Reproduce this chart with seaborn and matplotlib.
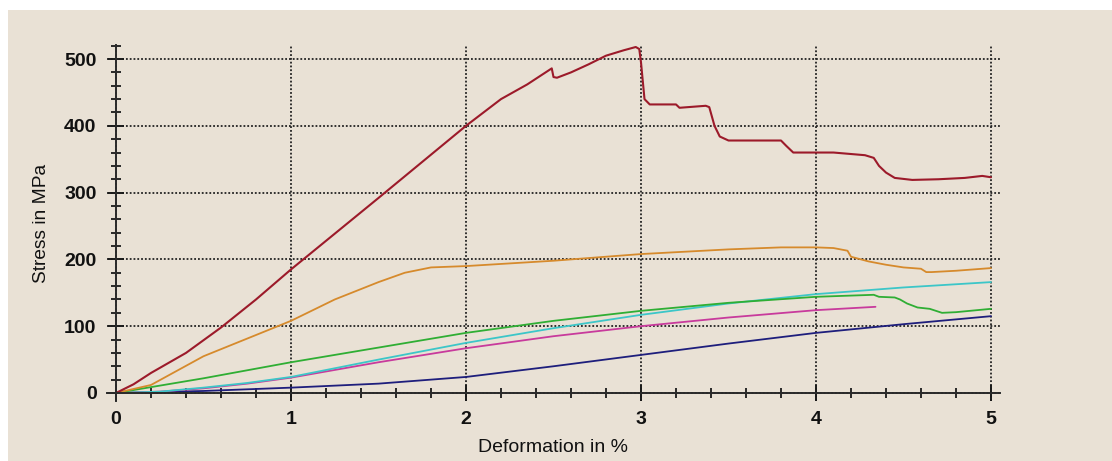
import matplotlib
matplotlib.use("Agg")
import matplotlib.pyplot as plt
import matplotlib.patches as mpatches
from matplotlib.ticker import MultipleLocator
import seaborn as sns

# ---------------- data ----------------
red_x = [0, 0.1, 0.2, 0.4, 0.6, 0.8, 1.0, 1.5, 2.0, 2.2, 2.35, 2.49, 2.5, 2.52, 2.6, 2.7,
         2.8, 2.9, 2.97, 2.99, 3.0, 3.02, 3.05, 3.2, 3.22, 3.37, 3.39, 3.42, 3.45, 3.5, 3.8,
         3.83, 3.87, 4.1, 4.28, 4.33, 4.36, 4.4, 4.45, 4.55, 4.7, 4.85, 4.95, 5.0]
red_y = [0, 13, 30, 60, 98, 140, 185, 292, 400, 440, 462, 486, 473, 472, 480, 492,
         505, 513, 518, 515, 495, 440, 432, 432, 427, 430, 428, 400, 384, 378, 378,
         370, 360, 360, 356, 352, 340, 330, 322, 319, 320, 322, 325, 323]

orange_x = [0, 0.2, 0.5, 1.0, 1.25, 1.5, 1.65, 1.8, 2.0, 2.5, 3.0, 3.5, 3.8, 4.0, 4.1,
            4.18, 4.2, 4.3, 4.4, 4.5, 4.6, 4.63, 4.66, 4.8, 5.0]
orange_y = [0, 12, 55, 108, 140, 166, 180, 188, 190, 198, 208, 215, 218, 218, 217,
            213, 204, 197, 192, 188, 186, 181, 181, 183, 187]

green_x = [0, 0.5, 1, 1.5, 2, 2.5, 3, 3.5, 4, 4.33, 4.36, 4.45, 4.48, 4.52, 4.58, 4.65,
           4.72, 4.8, 5.0]
green_y = [0, 22, 46, 68, 90, 108, 123, 135, 144, 147, 144, 143, 140, 134, 128, 126,
           120, 121, 126]

cyan_x = [0, 0.25, 0.5, 0.75, 1, 1.5, 2, 2.5, 3, 3.5, 4, 4.5, 5]
cyan_y = [0, 2, 8, 15, 24, 50, 75, 97, 117, 134, 148, 158, 166]

magenta_x = [0, 0.25, 0.5, 0.75, 1, 1.5, 2, 2.5, 3, 3.5, 4, 4.34]
magenta_y = [0, 2, 7, 14, 23, 46, 67, 85, 100, 113, 124, 129]

navy_x = [0, 0.5, 1, 1.5, 2, 2.5, 3, 3.5, 4, 4.5, 5]
navy_y = [0, 3, 8, 14, 24, 40, 57, 74, 90, 103, 115]

x_ticks = [0, 1, 2, 3, 4, 5]
y_ticks = [0, 100, 200, 300, 400, 500]
x_label = "Deformation in %"
y_label = "Stress in MPa"

# ---------------- style ----------------
BG = "#e9e1d5"
sns.set_style("ticks")
plt.rcParams["font.family"] = ["Liberation Sans", "DejaVu Sans"]

fig = plt.figure(figsize=(11.12, 4.61), dpi=100)
fig.patch.set_facecolor("white")
fig.add_artist(mpatches.Rectangle((8 / 1112, 0), 1, (461 - 10) / 461,
                                  transform=fig.transFigure, facecolor=BG,
                                  edgecolor="none", zorder=-10))

ax = fig.add_axes([107.25 / 1112, (461 - 401) / 461, 892.5 / 1112, 356 / 461])
ax.set_facecolor(BG)

series = [
    (navy_x, navy_y, "#1e1e7c", 1.3),
    (magenta_x, magenta_y, "#c83a9c", 1.3),
    (cyan_x, cyan_y, "#3cc6c8", 1.3),
    (green_x, green_y, "#2fae34", 1.3),
    (orange_x, orange_y, "#d68a2c", 1.3),
    (red_x, red_y, "#9c1a2a", 1.5),
]
for xs, ys, col, lw in series:
    sns.lineplot(x=xs, y=ys, color=col, linewidth=lw, sort=False,
                 estimator=None, ax=ax, zorder=3)

ax.set_xlim(-0.05, 5.05)
ax.set_ylim(-12, 521)

for s in ["top", "right"]:
    ax.spines[s].set_visible(False)
ax.spines["left"].set_position(("data", 0))
ax.spines["bottom"].set_position(("data", 0))
for s in ["left", "bottom"]:
    ax.spines[s].set_color("#2a2a2a")
    ax.spines[s].set_linewidth(1.4)
    ax.spines[s].set_zorder(4)

ax.set_xticks(x_ticks)
ax.set_yticks(y_ticks)
ax.xaxis.set_minor_locator(MultipleLocator(0.2))
ax.yaxis.set_minor_locator(MultipleLocator(20))

ax.tick_params(axis="both", which="major", direction="inout", length=12,
               width=1.4, color="#1a1a1a", labelsize=14)
ax.tick_params(axis="both", which="minor", direction="inout", length=7,
               width=1.3, color="#1a1a1a")
ax.tick_params(axis="x", which="major", pad=7)
ax.tick_params(axis="y", which="major", pad=8)
for lab in ax.get_xticklabels() + ax.get_yticklabels():
    lab.set_fontweight("bold")
    lab.set_color("#111111")

ax.grid(True, which="major", linestyle=(0, (1, 1.1)), color="#222222",
        linewidth=1.3, zorder=1)
ax.set_axisbelow(True)

ax.set_xlabel(x_label, fontsize=14, color="#111111", labelpad=8)
ax.set_ylabel(y_label, fontsize=13.8, color="#111111", labelpad=10)

fig.savefig("out.png", dpi=100, facecolor=fig.get_facecolor())
